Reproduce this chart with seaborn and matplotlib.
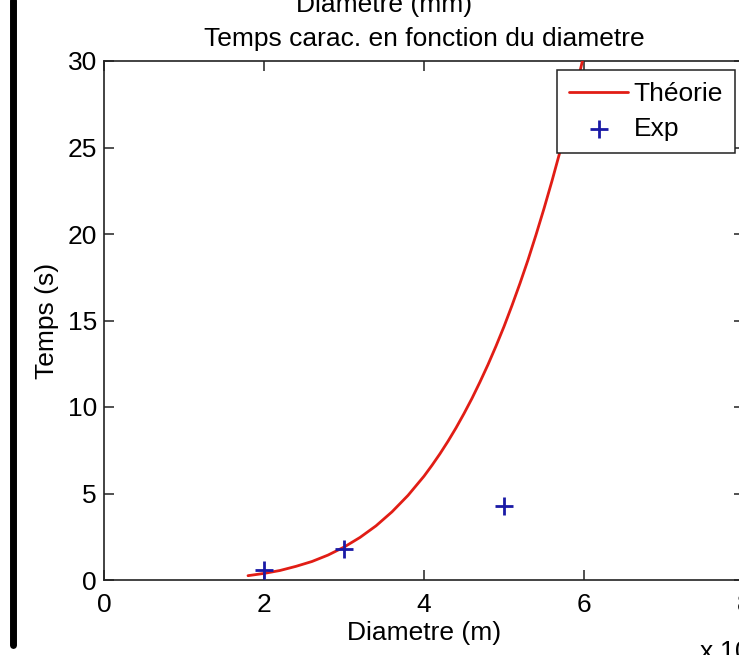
import numpy as np
import pandas as pd
import matplotlib
matplotlib.use("Agg")
import matplotlib.pyplot as plt
from matplotlib.ticker import FuncFormatter
from matplotlib.lines import Line2D
import seaborn as sns

# Theoretical characteristic time vs. bead diameter (diameter in 1e-4 m)
theory_d = [1.8, 2.0, 2.2, 2.4, 2.6, 2.8, 3.0, 3.2, 3.4, 3.6, 3.8, 4.0,
            4.1, 4.2, 4.3, 4.4, 4.5, 4.6, 4.7, 4.8, 4.9, 5.0, 5.1, 5.2,
            5.3, 5.4, 5.5, 5.6, 5.7, 5.8, 5.9, 6.0]
theory_t = [0.25, 0.38, 0.55, 0.79, 1.07, 1.44, 1.90, 2.46, 3.13, 3.94,
            4.89, 6.00, 6.63, 7.30, 8.02, 8.79, 9.62, 10.5, 11.45, 12.45,
            13.52, 14.65, 15.87, 17.15, 18.5, 19.95, 21.47, 23.07, 24.76,
            26.55, 28.4, 30.4]

# Measured values
exp_d = [2.0, 3.0, 5.0]
exp_t = [0.58, 1.79, 4.28]

x_ticks = [0, 2, 4, 6, 8]
y_ticks = [0, 5, 10, 15, 20, 25, 30]

theory = pd.DataFrame({"d": np.array(theory_d) * 1e-4, "t": theory_t})
measures = pd.DataFrame({"d": np.array(exp_d) * 1e-4, "t": exp_t})

sns.set_style("ticks")
plt.rcParams["font.family"] = ["Liberation Sans", "DejaVu Sans"]
plt.rcParams["text.color"] = "black"
plt.rcParams["axes.labelcolor"] = "black"
FS = 19
plt.rcParams["font.size"] = FS

W, H = 739, 655
fig = plt.figure(figsize=(W / 100, H / 100), dpi=100)
fig.patch.set_facecolor("white")
ax = fig.add_axes([104 / W, 1 - 580 / H, 640 / W, 519 / H])

sns.lineplot(data=theory, x="d", y="t", ax=ax, color="#e11d15",
             linewidth=2.0, label="Théorie", zorder=3)
sns.scatterplot(data=measures, x="d", y="t", ax=ax, marker="+",
                color="#1a1aa6", s=150, linewidth=2.0, label="Exp", zorder=4)

ax.set_xlim(0, 8e-4)
ax.set_ylim(0, 30)
ax.set_xticks([v * 1e-4 for v in x_ticks])
ax.xaxis.set_major_formatter(FuncFormatter(lambda v, p: f"{v * 1e4:g}"))
ax.set_yticks(y_ticks)

for s in ax.spines.values():
    s.set_visible(True)
    s.set_color("#222222")
    s.set_linewidth(1.2)
ax.tick_params(direction="in", length=7, width=1.1, top=True, right=True,
               labelsize=FS, colors="#222222", labelcolor="black")
ax.tick_params(axis="x", pad=9)
ax.tick_params(axis="y", pad=5)

ax.set_xlabel("Diametre (m)", fontsize=FS, labelpad=3, color="black")
ax.set_ylabel("Temps (s)", fontsize=FS, labelpad=6, color="black")
ax.set_title("Temps carac. en fonction du diametre", fontsize=FS, pad=11,
             color="black")

leg = ax.legend(loc="upper right", fontsize=FS, frameon=True, fancybox=False,
                edgecolor="#222222", framealpha=1, borderaxespad=0.35,
                handlelength=2.25, handletextpad=0.2, borderpad=0.45,
                labelspacing=0.4, scatterpoints=1)
leg.get_frame().set_linewidth(1.1)
for t in leg.get_texts():
    t.set_color("black")

# exponent of the x axis and the label of the upper diameter scale
fig.text(699 / W, 1 - 660 / H, r"x 10$^{-4}$", fontsize=FS, ha="left",
         va="baseline", color="black")
fig.text(384 / W, 1 - 12 / H, "Diametre (mm)", fontsize=FS, ha="center",
         va="baseline", color="black")

# thick vertical rule on the left margin
fig.add_artist(Line2D([13 / W, 13 / W], [1 - 645 / H, 1.0],
                      transform=fig.transFigure, color="black", linewidth=5))

fig.savefig("out.png", dpi=100)
